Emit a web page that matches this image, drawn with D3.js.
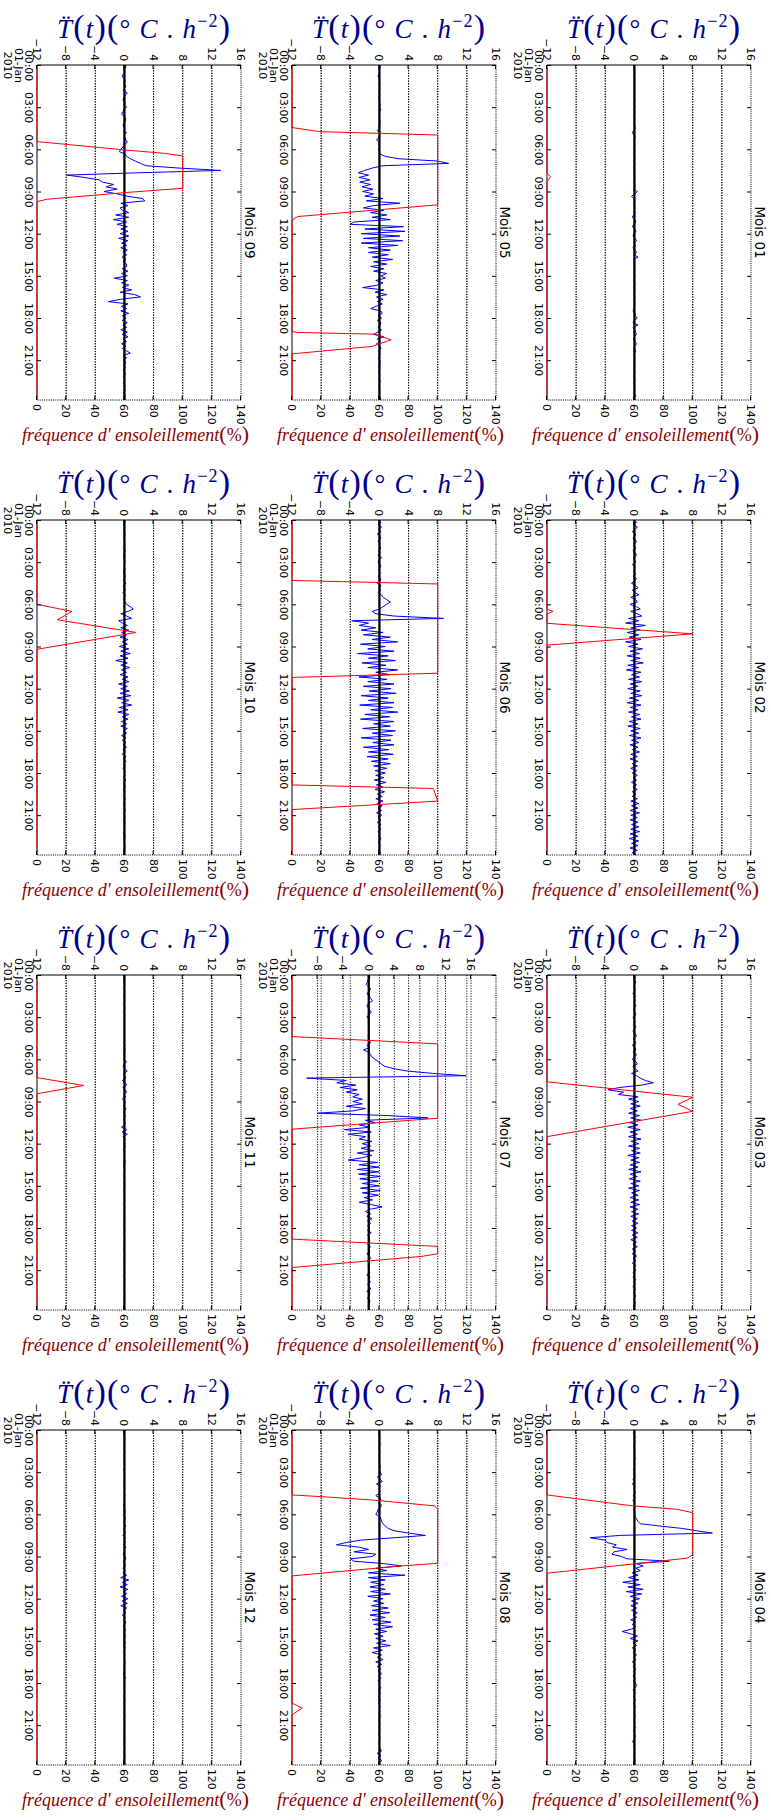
<!DOCTYPE html>
<html><head><meta charset="utf-8">
<script src="https://cdn.jsdelivr.net/npm/d3@7/dist/d3.min.js"></script>
<style>html,body{margin:0;padding:0;background:#fff;}svg{display:block;}</style>
</head><body>
<svg id="chart" width="771" height="1820"></svg>
<script>
// ---------------- data ----------------
const monthTitles = ["Mois 01","Mois 02","Mois 03","Mois 04","Mois 05","Mois 06","Mois 07","Mois 08","Mois 09","Mois 10","Mois 11","Mois 12"];
const tempTicks = [-12,-8,-4,0,4,8,12,16];
const freqTicks = [0,20,40,60,80,100,120,140];
const hourTicks = [0,3,6,9,12,15,18,21];
const hourLabels = ["00:00","03:00","06:00","09:00","12:00","15:00","18:00","21:00"];
const firstDateLines = ["00:00","01-Jan","2010"];
const tempMin = -12;
const tempMaxByMonth = [16,16,16,16,16,16,19.9,16,16,16,16,16];
const freqMax = 140;
const sampleMinutes = 10;
const lastHour = 23 + 50/60;

// second derivative of temperature, one value every 10 minutes (00:00 .. 23:50)
const blue01 = [
0,0.05,-0.05,0.05,0,-0.05,0.05,0,-0.05,0.05,0,-0.05,
0.05,0,-0.05,0.1,-0.05,0,0.05,-0.05,0.05,0,-0.05,0.05,
0,-0.05,0.05,0.1,-0.1,-0.3,0.05,0.1,-0.05,0,0.05,-0.05,
0,0.05,-0.05,0,0.05,-0.05,0.05,0,-0.05,0.05,0,-0.05,
0.05,0,-0.05,0.05,0.1,-0.1,0.4,0.1,-0.4,-0.1,0.05,0,
-0.05,0.05,0,0.1,-0.1,-0.3,0.05,0.2,-0.1,-0.3,0.05,0.2,
-0.05,-0.2,0.1,0.3,-0.05,0.1,-0.2,0.05,0.3,-0.05,0.5,-0.1,
0.05,0,-0.05,0.05,0,-0.05,0.05,0,-0.05,0.05,0,-0.05,
0.05,0,-0.05,0.05,0,-0.05,0.05,0,-0.05,-0.2,0.05,0.1,
0.4,0,-0.2,0.5,-0.2,0.05,0.1,0.3,0,-0.1,0.05,0.3,
0.05,-0.1,0.2,0,-0.05,0.05,0,-0.05,0.05,0,-0.05,0.05,
0,-0.05,0.05,0,-0.05,0.05,0,0.05,-0.05,0.2,0,0.05];
const blue02 = [
0,0.3,-0.2,0.4,0.1,-0.3,0.2,0,-0.2,0.3,0.1,-0.1,
0.2,-0.2,0.1,0.3,-0.1,0,0.2,-0.3,0.1,0,-0.1,0.2,
-0.2,0.3,0,-0.4,0.2,0.5,-0.3,0.1,0.6,-0.5,0.2,0.4,
-0.6,0.3,0.8,-0.5,0.4,1.0,-0.8,0.6,-1.2,1.5,-0.5,0.8,
-1.0,0.6,-0.7,0.9,-1.2,0.5,-0.8,1.1,-0.6,0.7,-1.0,0.8,
-0.5,1.2,-0.9,0.6,-1.1,0.9,-0.4,0.7,-0.8,1.0,-0.6,0.5,
-0.9,0.8,-0.5,1.0,-0.7,0.6,-1.0,0.9,-0.6,0.5,-0.8,0.7,
-0.4,0.9,-0.7,0.5,-0.9,0.8,-0.5,0.6,-0.7,0.9,-0.4,0.6,
-0.6,0.5,-0.3,0.7,-0.5,0.4,-0.6,0.5,-0.3,0.4,-0.5,0.3,
-0.3,0.4,-0.2,0.3,-0.4,0.3,-0.2,0.4,-0.3,0.2,-0.3,0.4,
-0.5,0.6,-0.4,0.5,-0.6,0.7,-0.5,0.4,-0.6,0.5,-0.4,0.6,
-0.5,0.7,-0.6,0.5,-0.7,0.6,-0.4,0.5,-0.6,0.4,-0.3,0.2];
const blue03 = [
0,0.1,-0.1,0.2,0,-0.1,0.1,0,-0.2,0.1,0,0.1,
-0.1,0.2,0,-0.1,0.1,0.2,-0.2,0,0.1,-0.1,0.2,0,
-0.2,0.1,0.3,-0.1,0,0.2,-0.3,0.1,0.2,-0.2,0.3,0,
-0.3,0.2,0.4,-0.2,0.1,0.5,-0.4,0.3,0.8,1.5,2.6,1.0,
-2.0,-3.6,-1.5,-2.2,0.5,-0.8,0.6,-0.5,0.8,-0.6,0.4,-0.8,
0.7,-0.5,0.9,-0.7,0.5,-0.9,0.8,-0.6,0.4,-0.8,0.9,-0.5,
0.6,-0.8,0.7,-0.4,0.8,-0.9,0.6,-0.5,0.7,-0.6,0.5,-0.8,
0.9,-0.6,0.4,-0.7,0.8,-0.5,0.6,-0.8,0.7,-0.4,0.5,-0.6,
0.6,-0.5,0.7,-0.6,0.5,-0.4,0.6,-0.5,0.4,-0.3,0.5,-0.4,
0.3,-0.4,0.5,-0.3,0.4,-0.5,0.3,-0.2,0.4,-0.3,0.2,-0.3,
0.3,-0.2,0.2,-0.3,0.2,-0.1,0.2,-0.2,0.1,-0.2,0.2,-0.1,
0.1,-0.2,0.1,0,-0.1,0.2,-0.1,0,0.1,-0.1,0,0.1];
const blue04 = [
0,0.05,-0.05,0.1,-0.05,0.05,0,-0.1,0.05,0,0.05,-0.05,
0.1,0,-0.05,0.05,0,-0.1,0.05,-0.1,0.1,-0.2,0.05,-0.3,
0.1,-0.1,0.05,0.1,-0.15,0.1,-0.2,0.05,0,0.1,-0.1,0.05,
0.05,0.1,0.3,0.5,0.8,3.5,6.5,8.5,10.7,-2,-6.1,-4.0,
-3.8,-2.5,-3.0,-1.0,-2.8,-3.1,-1.8,-1.0,4.8,0.2,1.2,0.2,
0.8,-0.3,0.5,-0.8,0.6,-1.6,0.8,-0.9,1.2,-1.1,1.0,-0.6,
0.7,-0.4,0.5,-0.5,0.3,-0.4,0.4,-0.2,0.3,-0.5,0.2,-0.3,
0.2,-0.4,-1.7,-0.5,0.4,-0.6,0.5,-0.2,0.3,-0.3,0.2,-0.2,
0.3,-0.1,0.2,-0.3,0.1,-0.2,0.2,-0.1,0.1,-0.2,0.1,0,
0.1,0.3,0.1,-0.2,0.1,0,-0.1,0.1,0,-0.1,0.1,0,
0.05,-0.1,0.1,0,-0.05,0.05,0,0.1,-0.1,0,0.05,0.1,
0,-0.3,0.1,-0.1,0.05,0,0.05,-0.05,0,0.05,0,0];
const blue05 = [
0,0.1,-0.05,0.05,-0.1,-0.2,0.05,0,0.1,-0.05,0.05,0,
-0.05,0.05,-0.1,0.05,0,0.1,0,0.2,-0.05,0.05,0,-0.05,
0.1,0.05,-0.05,0,-0.3,0.1,0,-0.1,-0.4,0,-0.1,0.05,
-0.1,0,0.1,0.8,2.6,8.0,9.5,0.5,-1.0,-2.0,-2.9,-1.5,
-2.8,-1.3,-2.7,-1.2,-2.4,-0.9,-2.3,-0.8,-2.0,0.5,-1.8,2.8,
-0.8,-2.2,0.6,-1.2,1.0,-1.0,1.5,-3.5,-4.0,3.3,-2.0,3.5,
-2.5,2.8,-2.2,3.2,-2.5,2.5,-1.5,1.5,-1.5,1.2,-1.0,1.8,
-0.8,1.0,-1.2,0.6,-0.8,1.0,0.2,0.8,-0.5,0.5,-0.3,-2.3,
0.6,-0.6,1.0,-0.4,0.5,-0.3,0.4,-0.5,-1.2,0.2,0.4,-0.2,
0.3,-0.3,0.2,0.1,-0.2,0.3,-0.2,-0.8,0.6,-0.3,0.2,-0.4,
0.1,0.2,-0.1,0.1,0,-0.1,0.05,0.1,-0.05,0,0.05,-0.1,
0.05,0,-0.05,0.1,0,-0.05,0.05,0,0.05,-0.05,0.1,0.2];
const blue06 = [
0,0.2,-0.2,0.3,-0.1,0.2,-0.3,0.1,0.2,-0.2,0.1,0,
0.2,-0.1,0.1,-0.2,0.3,0,-0.2,0.1,0.2,-0.1,0,0.1,
-0.2,0.2,0.1,-0.3,0.2,0,0.1,-0.2,0.3,0.5,1.0,1.5,
1.0,0.5,0,-1.0,-0.5,2.0,8.8,-3.8,-1.5,-2.8,-0.5,-2.5,
0.5,-2.2,1.5,-1.0,2.5,-2.6,0.8,-1.6,2.0,-3.0,1.2,-1.5,
2.2,-2.4,0.9,-1.6,2.5,-0.5,1.5,-2.8,1.0,-1.6,2.0,-2.2,
1.6,-1.4,2.3,-2.5,1.2,-1.5,2.0,-2.7,1.8,-1.2,2.5,-2.0,
1.4,-2.6,2.0,-0.8,1.5,-2.3,2.2,-1.0,1.8,-2.5,1.6,-0.9,
2.0,-2.2,1.3,-1.5,1.9,-1.7,1.2,-1.1,1.5,-0.8,1.0,-0.6,
0.8,-0.5,0.6,-0.7,0.9,-0.4,0.5,-0.6,0.7,-0.3,0.4,-0.5,
0.5,-0.3,0.4,-0.2,0.3,-0.4,0.3,-0.2,0.2,-0.3,0.2,-0.1,
0.2,-0.2,0.1,-0.1,0.2,0,-0.1,0.1,0,-0.1,0.1,0];
const blue07 = [
0,0.2,-0.1,-0.2,-0.4,0,0.3,0,-0.3,0.1,0.3,0.6,
0,-0.3,-0.1,0.2,0.4,0,-0.3,0.1,-0.1,0.05,0,-0.05,
0.05,0,-0.1,0.05,0.1,0.3,-0.3,0.1,-0.8,0,0.3,0.5,
1.0,1.5,2.0,2.5,4.0,6.0,10,15.2,-9.7,-3.5,-5.0,-2.0,
-4.5,-1.8,-3.5,-1.5,-2.5,-1.0,-2.5,-1.0,-3.5,-0.5,-2.5,-8.0,
3,9.3,-0.5,1.0,-1.5,0.2,-3.8,0.4,-3.2,-0.5,-1.5,0.5,
-1.0,0.3,-1.2,0.8,-1.8,0.5,-1.0,-3.2,1.4,-1.5,1.6,-1.8,
1.6,-1.6,1.8,-1.4,1.5,-1.0,1.6,-1.3,1.8,-1.0,1.5,-0.7,
0.6,-1.5,0.4,2.1,0.2,-0.5,0.3,-0.3,0.5,-0.2,0.3,-0.2,
0.2,-0.2,0.4,-0.2,0.1,0,0.2,-0.2,0.3,-0.1,0.2,-0.3,
0.1,0.3,-0.2,0.1,-0.1,0.05,0,0.2,-0.3,0.2,0,0.3,
-0.2,0.1,0.3,-0.3,0.2,0,-0.2,0.2,0.1,-0.1,0,0.1];
const blue08 = [
0,0.05,-0.05,0.05,0,-0.05,0.1,0,-0.05,0.05,0,-0.05,
0.05,0,-0.05,0.05,0.1,-0.05,0.1,0.3,-0.3,0.1,0.4,-0.4,
0.1,-0.1,0.05,0,-0.5,0.1,0.2,-0.1,0.3,0.1,-0.2,-0.3,
-0.5,0.1,0.2,0.3,0.5,0.8,1.2,2.0,4.0,6.3,2.0,-2.5,
-4.5,-5.9,-2.8,-1.5,-3.5,-0.5,-1.0,-4.0,-3.5,0.5,3.0,-0.5,
1.0,-1.5,3.5,-1.5,0.8,-1.2,0.6,-1.3,0.8,-1.2,1.5,-1.6,
0.5,-0.8,0.6,-1.1,1.2,-1.0,1.4,-1.3,0.8,-1.0,1.6,-0.8,
1.8,-0.5,1.0,-0.7,0.5,-0.5,0.9,-0.4,1.5,-0.8,0.4,-1.0,
0.3,-0.3,0.5,-0.5,0.3,-0.3,0.2,-0.2,0.3,-0.1,0.2,-0.2,
0.1,-0.1,0.2,-0.1,0.1,0,-0.1,0.1,0,-0.1,0.1,0,
0.05,-0.05,0.1,0,-0.05,0.05,0,-0.05,0.05,0,-0.1,0.1,
0,0.05,-0.05,0,0.1,0.3,-0.3,0.2,-0.2,0.3,0,0];
const blue09 = [
0.1,0.2,-0.1,0.1,-0.2,-0.3,0,0.1,-0.1,0.2,0,-0.1,
0.4,0.1,-0.1,-0.2,0.1,0,0.3,-0.1,-0.2,-0.4,0,0.2,
0.1,-0.1,-0.2,0.1,0,0.3,-0.1,0.1,0.2,0.4,0,-0.2,
-0.5,-0.7,0.1,0.3,0.8,1.5,2.2,3.0,7.5,13.2,2,-7.9,
-5.5,-3.5,-3.0,-1.5,-2.5,-1.0,-2.8,-1.0,0.3,2.5,2.8,-0.5,
0.5,-0.6,-0.3,0.6,-1.2,0.6,-1.5,0.3,-1.0,0.4,-0.5,0.5,
-0.6,0.6,-0.8,0.5,-0.4,0.3,-0.5,0.4,-0.2,0.3,-0.3,0.2,
-0.2,0.3,0.3,-0.3,0.5,-0.4,0.4,-1.4,0.4,-0.4,0.6,-0.3,
1.0,-0.6,1.4,2.2,-0.5,-2.2,0.5,-0.4,0.3,-0.5,0.6,-0.3,
0.2,-0.3,0.4,-0.2,0.3,-0.5,0.4,-0.3,0.5,-0.2,0.3,-0.4,
0.2,-0.3,0.3,0.8,-0.2,0.3,-0.2,0.2,-0.1,0.1,-0.1,0,
0.1,-0.1,0.05,0,-0.1,0.1,0,0.05,-0.1,0.1,0,0.1];
const blue10 = [
0,0.1,-0.1,0.05,0,-0.05,0.1,0,-0.1,0.05,0,0.05,
-0.05,0.1,0,-0.1,0.05,0,0.1,-0.05,0,0.05,-0.1,0,
0.1,0,-0.1,0.2,-0.1,0,0.1,-0.2,0.1,0,-0.1,0.1,
0.3,0.8,1.2,0.5,-0.5,0.3,1.0,-0.8,-0.3,0.4,-0.5,0.6,
-0.4,0.3,-0.6,0.5,-0.3,0.4,-0.7,0.6,-0.5,0.8,-0.6,0.5,
-1.2,0.4,-0.5,0.7,-0.4,0.3,-0.6,0.5,-0.3,0.6,-0.8,0.4,
-0.5,0.7,-0.6,0.9,-1.0,0.6,-0.4,1.0,-0.7,0.5,-0.9,0.6,
-0.3,0.5,-0.4,0.3,-0.5,0.4,-0.2,0.3,-0.4,0.2,-0.3,0.2,
-0.2,0.3,-0.2,0.1,-0.3,0.2,-0.1,0.2,-0.1,0.1,-0.2,0.1,
0,0.1,-0.1,0.2,-0.1,0,0.1,-0.1,0.05,0,-0.05,0.1,
0,-0.1,0.05,0,0.1,-0.05,0,0.05,-0.1,0.1,0,-0.05,
0.05,0,-0.1,0.1,0,-0.05,0.05,0,0.1,-0.1,0,0.05];
const blue11 = [
0,0.05,-0.05,0,0.05,0,-0.05,0.05,0,-0.05,0,0.05,
0,-0.05,0.05,0,-0.05,0.05,0,0.05,-0.05,0,0.05,-0.05,
0,0.05,-0.05,0,0.05,-0.1,0.05,0,0.1,-0.05,0,0.05,
-0.1,0.3,0,-0.2,0.1,0.4,-0.1,0,0.2,-0.3,0.1,0.3,
-0.2,0.1,0.3,-0.1,0.2,-0.3,0.1,0.05,-0.1,0.2,0,-0.1,
0.1,0.05,-0.1,0.1,0,-0.4,0.3,-0.3,0.4,-0.2,0.1,0,
-0.1,0.1,0,-0.05,0.05,0,-0.05,0.05,0.1,-0.1,0,0.05,
0.05,0,-0.05,0.05,0,-0.05,0.05,0,-0.05,0.05,0,-0.05,
0.05,0,-0.05,0.05,0,-0.05,0.05,0,-0.05,0.05,0,-0.05,
0,0.05,-0.05,0,0.05,0,-0.05,0.05,0,-0.05,0,0.05,
0,-0.05,0.05,0,-0.05,0.05,0,0.05,-0.05,0,0.05,-0.05,
0,0.05,-0.05,0,0.05,0,-0.05,0.05,0,-0.05,0,0];
const blue12 = [
0,0.05,-0.05,0,0.05,-0.05,0.05,0,-0.05,0.05,0,-0.05,
0.05,0,-0.05,0.05,0,-0.1,0.05,0,0.05,-0.05,0,0.05,
-0.05,0.05,0,-0.05,0.1,-0.05,0,0.05,-0.1,0.05,0,0.1,
-0.1,0.05,0.1,-0.05,0,0.2,-0.1,0.05,0.1,-0.2,0.1,0,
0.1,-0.1,0.2,-0.05,0.05,-0.2,0.1,0.2,-0.1,0,0.1,-0.2,
0.1,-0.2,0.3,-0.5,0.6,-0.3,0.4,-0.6,0.5,-0.2,0.3,-0.4,
0.5,-0.3,0.4,-0.5,0.3,-0.2,0.2,-0.3,0.1,-0.1,0.2,0,
-0.1,0.1,0.05,-0.1,0.1,0,-0.05,0.1,-0.1,0.05,0,-0.05,
0.05,0,-0.05,0.1,0,-0.05,0.05,0,-0.1,0.05,0.1,-0.05,
0,0.05,-0.05,0,0.05,0,-0.05,0.05,0,-0.05,0,0.05,
0,-0.05,0.05,0,-0.05,0.05,0,0.05,-0.05,0,0.05,-0.05,
0,0.05,-0.05,0,0.05,0,-0.05,0.05,0,-0.05,0,0];

// sunshine frequency (%), breakpoints [hour, value]
const red01 = [[0,0],[7.7,0],[7.95,2.5],[8.3,0],[23.83,0]];
const red02 = [[0,0],[6.35,0],[6.5,4],[6.7,0],[7.35,0],[8.1,100],[8.9,0],[23.83,0]];
const red03 = [[0,0],[7.6,0],[8.7,100],[9.2,90],[9.7,100],[11.5,0],[23.83,0]];
const red04 = [[0,0],[4.62,0],[5.4,59],[5.64,89],[5.88,100],[8.89,100],[9.12,96],[10.19,0],[23.83,0]];
const red05 = [[0,0],[4.45,0],[4.74,19],[4.98,100],[9.95,100],[10.78,4],[11.02,0],[18.96,0],[19.03,4],[19.15,57],[19.55,68],[20.02,55],[20.55,0],[23.83,0]];
const red06 = [[0,0],[4.3,0],[4.55,100],[10.9,100],[11.2,0],[18.85,0],[19.1,97],[20.0,100],[20.6,0],[23.83,0]];
const red07 = [[0,0],[4.38,0],[4.9,100],[10.19,100],[10.97,0],[18.79,0],[19.31,100],[19.83,100],[20.02,89],[20.81,0],[23.83,0]];
const red08 = [[0,0],[4.62,0],[4.74,20],[4.98,55],[5.4,98],[5.64,100],[9.48,100],[9.67,75],[10.38,0],[19.43,0],[19.79,7],[20.26,0],[23.83,0]];
const red09 = [[0,0],[5.45,0],[6.04,60],[6.28,87],[6.47,100],[8.77,100],[9.08,60],[9.55,7],[9.72,0],[23.83,0]];
const red10 = [[0,0],[6.0,0],[6.5,24],[7.1,14],[8.0,68],[9.2,0],[23.83,0]];
const red11 = [[0,0],[7.3,0],[7.86,32],[8.45,0],[23.83,0]];
const red12 = [[0,0],[23.83,0]];

const blueSeries = [blue01,blue02,blue03,blue04,blue05,blue06,blue07,blue08,blue09,blue10,blue11,blue12];
const redSeries = [red01,red02,red03,red04,red05,red06,red07,red08,red09,red10,red11,red12];

// ---------------- drawing ----------------
const svg = d3.select("#chart");
svg.append("rect").attr("width",771).attr("height",1820).attr("fill","#fff");
// the figure is drawn in landscape (1820 x 771) and turned a quarter turn clockwise
const root = svg.append("g").attr("transform","translate(771,0) rotate(90)");
const PW = 335, PH = 204;
const colX = [65,520,975,1430];
const rowY = [20,275,530];
const tickFont = "DejaVu Sans, Verdana, sans-serif";
const serif = "Liberation Serif, DejaVu Serif, serif";
const dots = "1.1,1.5";

monthTitles.forEach((title, m) => {
  const c = m % 4, r = Math.floor(m / 4);
  const x0 = colX[c], y0 = rowY[r], x1 = x0 + PW, y1 = y0 + PH;
  const x = d3.scaleLinear().domain([0, lastHour]).range([x0, x1]);
  const yT = d3.scaleLinear().domain([tempMin, tempMaxByMonth[m]]).range([y1, y0]);
  const yF = d3.scaleLinear().domain([0, freqMax]).range([y1, y0]);
  const p = root.append("g");

  // dotted grids for both vertical axes
  p.append("g").selectAll("line")
    .data(tempTicks.filter(v => yT(v) > y0 + 0.5 && yT(v) < y1 - 0.5))
    .join("line")
    .attr("x1", x0).attr("x2", x1).attr("y1", d => yT(d)).attr("y2", d => yT(d))
    .attr("stroke", "#000").attr("stroke-width", 1).attr("stroke-dasharray", dots);
  p.append("g").selectAll("line")
    .data(freqTicks.filter(v => yF(v) > y0 + 0.5 && yF(v) < y1 - 0.5))
    .join("line")
    .attr("x1", x0).attr("x2", x1).attr("y1", d => yF(d)).attr("y2", d => yF(d))
    .attr("stroke", "#000").attr("stroke-width", 1).attr("stroke-dasharray", dots);

  // spines
  p.append("line").attr("x1", x0).attr("x2", x0).attr("y1", y0).attr("y2", y1)
    .attr("stroke", "#000").attr("stroke-width", 1);
  p.append("line").attr("x1", x0).attr("x2", x1).attr("y1", y1).attr("y2", y1)
    .attr("stroke", "#000").attr("stroke-width", 1);
  p.append("line").attr("x1", x0).attr("x2", x1).attr("y1", y0).attr("y2", y0)
    .attr("stroke", "#000").attr("stroke-width", 1).attr("stroke-dasharray", "1.1,1.1");
  p.append("line").attr("x1", x1).attr("x2", x1).attr("y1", y0).attr("y2", y1)
    .attr("stroke", "#000").attr("stroke-width", 1).attr("stroke-dasharray", "1.1,1.1");

  // blue series
  const line = d3.line().x((d, i) => x(i * sampleMinutes / 60)).y(d => yT(d));
  p.append("path").datum(blueSeries[m]).attr("d", line)
    .attr("fill", "none").attr("stroke", "#0000ff").attr("stroke-width", 1)
    .attr("stroke-linejoin", "round");

  // zero line
  p.append("line").attr("x1", x(0)).attr("x2", x(lastHour)).attr("y1", yT(0)).attr("y2", yT(0))
    .attr("stroke", "#000").attr("stroke-width", 2.3);

  // red series
  const rline = d3.line().x(d => x(d[0])).y(d => yF(d[1]));
  p.append("path").datum(redSeries[m]).attr("d", rline)
    .attr("fill", "none").attr("stroke", "#ff0000").attr("stroke-width", 1);

  // axes
  const styleAxis = g => {
    g.attr("font-size", 10.8).attr("font-family", tickFont);
    g.select(".domain").remove();
    g.selectAll(".tick line").attr("stroke", "#000");
    g.selectAll(".tick text").attr("fill", "#000");
  };
  p.append("g").attr("transform", `translate(${x0},0)`)
    .call(d3.axisLeft(yT).tickValues(tempTicks).tickSizeInner(-4).tickSizeOuter(0).tickPadding(4)
      .tickFormat(d3.format("d")))
    .call(styleAxis);
  p.append("g").attr("transform", `translate(${x1},0)`)
    .call(d3.axisRight(yF).tickValues(freqTicks).tickSizeInner(-4).tickSizeOuter(0).tickPadding(4)
      .tickFormat(d3.format("d")))
    .call(styleAxis);
  p.append("g").attr("transform", `translate(0,${y0})`)
    .call(d3.axisTop(x).tickValues(hourTicks).tickSizeInner(-4).tickSizeOuter(0).tickFormat(""))
    .call(styleAxis);
  const axB = p.append("g").attr("transform", `translate(0,${y1})`)
    .call(d3.axisBottom(x).tickValues(hourTicks).tickSizeInner(-4).tickSizeOuter(0).tickPadding(4)
      .tickFormat((d, i) => hourLabels[i]))
    .call(styleAxis);
  const firstText = axB.selectAll(".tick text").filter((d, i) => i === 0);
  firstText.text(null).attr("dy", null);
  firstText.selectAll("tspan").data(firstDateLines).join("tspan")
    .attr("x", 0).attr("dy", (d, i) => i === 0 ? "0.71em" : "0.98em").text(d => d);

  // panel title
  p.append("text").attr("x", (x0 + x1) / 2).attr("y", y0 - 4)
    .attr("text-anchor", "middle").attr("font-family", tickFont).attr("font-size", 13.5)
    .attr("fill", "#000").text(title);

  // left label
  const tl = p.append("text")
    .attr("transform", `translate(${x0 - 27},${y0 + 97.5}) rotate(-90)`)
    .attr("text-anchor", "middle").attr("fill", "#00008b")
    .attr("font-family", serif).attr("font-size", 27)
    .attr("textLength", 173).attr("lengthAdjust", "spacing");
  tl.append("tspan").attr("font-style", "italic").text("T\u0308");
  tl.append("tspan").attr("font-size", 34).text("(");
  tl.append("tspan").attr("font-style", "italic").text("t");
  tl.append("tspan").attr("font-size", 34).text(")(");
  tl.append("tspan").text("° ");
  tl.append("tspan").attr("font-style", "italic").text("C");
  tl.append("tspan").text(" . ");
  tl.append("tspan").attr("font-style", "italic").text("h");
  tl.append("tspan").attr("font-size", 18).attr("dy", -11).text("−2");
  tl.append("tspan").attr("font-size", 34).attr("dy", 11).text(")");

  // right label
  const fl = p.append("text")
    .attr("transform", `translate(${x1 + 41},${y0 + 105.5}) rotate(-90)`)
    .attr("text-anchor", "middle").attr("fill", "#8b0000")
    .attr("font-family", serif).attr("font-size", 18)
    .attr("textLength", 227).attr("lengthAdjust", "spacing");
  fl.append("tspan").attr("font-style", "italic").text("fréquence d' ensoleillement");
  fl.append("tspan").attr("font-size", 22).text("(");
  fl.append("tspan").text("%");
  fl.append("tspan").attr("font-size", 22).text(")");
});
</script>
</body></html>
